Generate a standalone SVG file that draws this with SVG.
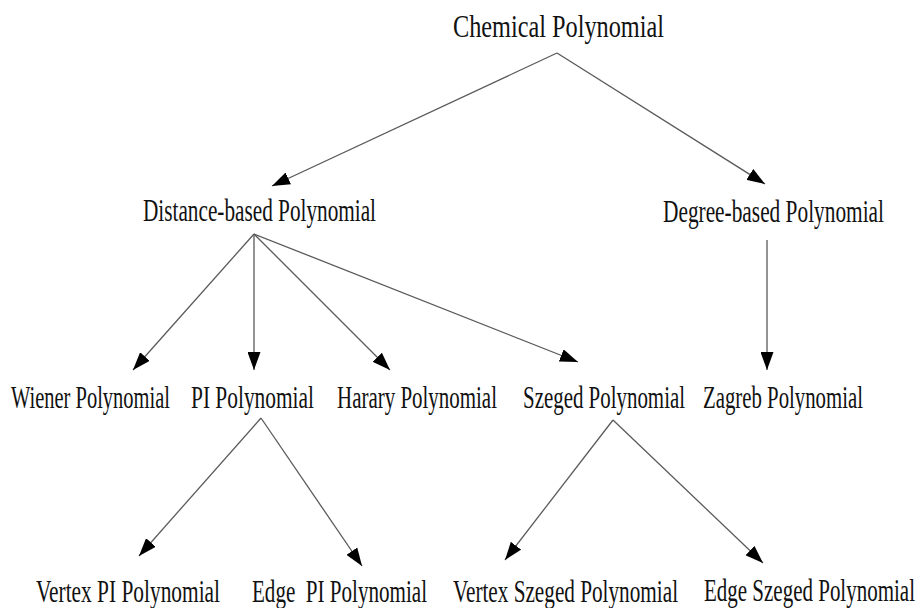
<svg xmlns="http://www.w3.org/2000/svg" width="923" height="608" viewBox="0 0 923 608">
<defs>
<marker id="ah" viewBox="0 0 18 13" refX="18" refY="6.5" markerWidth="18" markerHeight="13" markerUnits="userSpaceOnUse" orient="auto">
<path d="M0,0 L18,6.5 L0,13 Z" fill="#000"/>
</marker>
<style>
text{font-family:"Liberation Serif","Times New Roman",serif;font-size:32px;fill:#111}
.c line{stroke:#5a5a5a;stroke-width:1.3;marker-end:url(#ah)}
</style>
</defs>
<rect width="923" height="608" fill="#fff"/>
<g id="connectors" class="c">
<line x1="557" y1="53" x2="272" y2="186"/>
<line x1="557" y1="53" x2="765" y2="184"/>
<line x1="254" y1="234" x2="133" y2="370"/>
<line x1="254" y1="234" x2="254" y2="370"/>
<line x1="254" y1="234" x2="390" y2="370"/>
<line x1="254" y1="234" x2="578" y2="362"/>
<line x1="767" y1="240" x2="767" y2="370"/>
<line x1="261" y1="418" x2="139" y2="556"/>
<line x1="261" y1="418" x2="362" y2="566"/>
<line x1="613" y1="420" x2="505" y2="560"/>
<line x1="613" y1="420" x2="763" y2="563"/>
</g>
<g id="chemical"><text transform="translate(453,37) scale(0.76,1)" textLength="277.6" lengthAdjust="spacingAndGlyphs">Chemical Polynomial</text></g>
<g id="distance"><text transform="translate(143,221) scale(0.76,1)" textLength="306.6" lengthAdjust="spacingAndGlyphs">Distance-based Polynomial</text></g>
<g id="degree"><text transform="translate(663,222) scale(0.76,1)" textLength="290.8" lengthAdjust="spacingAndGlyphs">Degree-based Polynomial</text></g>
<g id="wiener"><text transform="translate(11,408) scale(0.76,1)" textLength="209.2" lengthAdjust="spacingAndGlyphs">Wiener Polynomial</text></g>
<g id="pi"><text transform="translate(191,408) scale(0.76,1)" textLength="161.8" lengthAdjust="spacingAndGlyphs">PI Polynomial</text></g>
<g id="harary"><text transform="translate(337,408) scale(0.76,1)" textLength="210.5" lengthAdjust="spacingAndGlyphs">Harary Polynomial</text></g>
<g id="szeged"><text transform="translate(523,408) scale(0.76,1)" textLength="213.2" lengthAdjust="spacingAndGlyphs">Szeged Polynomial</text></g>
<g id="zagreb"><text transform="translate(703,408) scale(0.76,1)" textLength="210.5" lengthAdjust="spacingAndGlyphs">Zagreb Polynomial</text></g>
<g id="vertexpi"><text transform="translate(36,602) scale(0.76,1)" textLength="242.1" lengthAdjust="spacingAndGlyphs">Vertex PI Polynomial</text></g>
<g id="edgepi"><text transform="translate(252,602) scale(0.76,1)" textLength="230.3" lengthAdjust="spacingAndGlyphs" xml:space="preserve">Edge  PI Polynomial</text></g>
<g id="vertexszeged"><text transform="translate(453,602) scale(0.76,1)" textLength="296.1" lengthAdjust="spacingAndGlyphs">Vertex Szeged Polynomial</text></g>
<g id="edgeszeged"><text transform="translate(704,601) scale(0.76,1)" textLength="277.6" lengthAdjust="spacingAndGlyphs">Edge Szeged Polynomial</text></g>
</svg>
